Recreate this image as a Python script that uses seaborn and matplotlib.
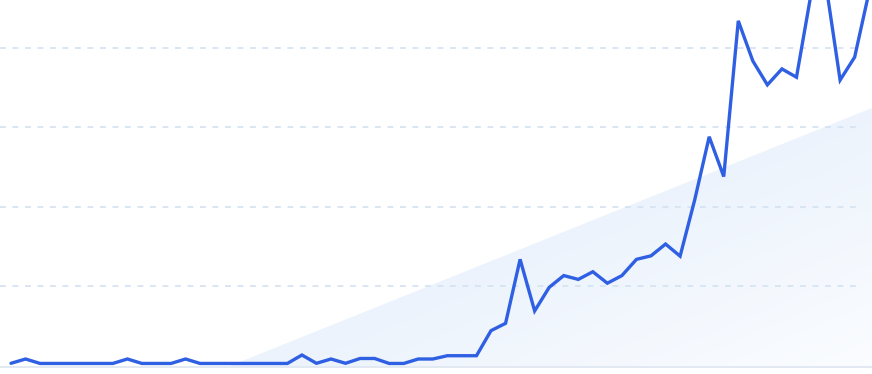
import numpy as np
import pandas as pd
import matplotlib
matplotlib.use("Agg")
import matplotlib.pyplot as plt
from matplotlib.patches import Polygon
from matplotlib.colors import LinearSegmentedColormap
import seaborn as sns

# ---- data ----
periods = list(range(60))
values = [0.85, 2.2, 0.8, 0.8, 0.8, 0.8, 0.8, 0.8, 2.2, 0.8,
          0.8, 0.8, 2.2, 0.8, 0.8, 0.8, 0.8, 0.8, 0.8, 0.8,
          3.45, 0.85, 2.2, 0.85, 2.36, 2.36, 0.8, 0.8, 2.2, 2.2,
          3.23, 3.23, 3.23, 11.1, 13.4, 33.5, 17.3, 24.7, 28.4, 27.2,
          29.6, 26.0, 28.4, 33.5, 34.6, 38.3, 34.5, 52.1, 72.0, 59.5,
          108.4, 95.8, 88.3, 93.3, 90.7, 116.8, 120.6, 89.8, 97.0, 117.7]
grid_levels = [25, 50, 75, 100]

df = pd.DataFrame({"period": periods, "value": values})

sns.set_style("white")
plt.rcParams['font.family'] = ['DejaVu Sans']

W, H = 872, 374
fig = plt.figure(figsize=(W / 100, H / 100), dpi=100)
ax = fig.add_axes([0, 0, 1, 1])

px_per_x = 14.546
px_per_y = 3.184
ax.set_xlim(-11 / px_per_x, 59 + (W - 869.2) / px_per_x)
ax.set_ylim(-(H - 366) / px_per_y, 366 / px_per_y)

# decorative gradient triangle (axes coords)
bl = (230 / W, 1 - 366 / H)
tr = (1.0, 1 - 108 / H)
br = (1.0, 1 - 366 / H)
tri = Polygon([bl, tr, br], closed=True, transform=ax.transAxes,
              facecolor="none", edgecolor="none")
ax.add_patch(tri)
nx, ny = 400, 200
xx, yy = np.meshgrid(np.linspace(0, 1, nx), np.linspace(0, 1, ny))
t = np.clip((xx - 0.35) * 0.9 + (0.5 - yy) * 0.9, 0, 1)
cmap = LinearSegmentedColormap.from_list("g", ["#e4eefb", "#fafcff"])
im = ax.imshow(t, cmap=cmap, extent=[0, 1, 0, 1], origin="lower",
               transform=ax.transAxes, aspect="auto", zorder=0, vmin=0, vmax=1)
im.set_clip_path(tri)

# gridlines
for g in grid_levels:
    ax.plot([0, 862 / W], [g, g], transform=ax.get_yaxis_transform(),
            color="#d3e2f2", lw=1.2, ls=(0, (3.5, 4)), zorder=1)
ax.axhline(-0.3, color="#e0e7f1", lw=1.3, zorder=1)

sns.lineplot(data=df, x="period", y="value", ax=ax, color="#2f5fe2",
             lw=2.4, zorder=3, solid_joinstyle="miter")

ax.set_xlabel("")
ax.set_ylabel("")
ax.set_xticks([])
ax.set_yticks([])
for s in ax.spines.values():
    s.set_visible(False)
ax.set_facecolor("white")

fig.savefig("out.png", dpi=100)
